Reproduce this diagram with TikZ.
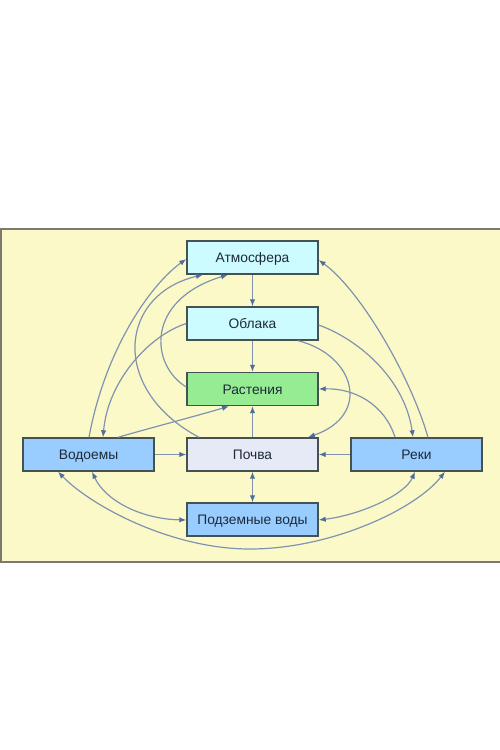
\documentclass[tikz,border=0pt]{standalone}
\usepackage{fontspec}
\setmainfont{Liberation Sans}
\usetikzlibrary{arrows.meta}
\definecolor{bgyellow}{HTML}{FCF9C8}
\definecolor{framec}{HTML}{7A7A72}
\definecolor{boxline}{HTML}{46524F}
\definecolor{cyanf}{HTML}{CCFCFF}
\definecolor{greenf}{HTML}{96EC92}
\definecolor{soilf}{HTML}{E6EAF6}
\definecolor{bluef}{HTML}{99CCFF}
\definecolor{linec}{HTML}{7F93B0}
\definecolor{tipc}{HTML}{4E6C9C}
\definecolor{textc}{HTML}{1E2A38}
\tikzset{
  mytip/.tip={Latex[length=7pt,width=5.5pt,color=tipc]},
  box/.style={draw=boxline, line width=1.4pt, minimum width=131pt, minimum height=33pt,
    inner sep=0pt, text height=10pt, text depth=0pt, text=textc, font=\fontsize{13.8}{16}\selectfont},
  conn/.style={draw=linec, line width=1.2pt},
}
\begin{document}
\begin{tikzpicture}[x=1pt,y=-1pt]
\useasboundingbox (0,0) rectangle (500,750);
\fill[white] (0,0) rectangle (500,750);
\draw[draw=framec, line width=1.5pt, fill=bgyellow] (1,229) rectangle (503,562);

\node[box, fill=cyanf] (atm) at (252.5,257.5) {Атмосфера};
\node[box, fill=cyanf] (obl) at (252.5,323.5) {Облака};
\node[box, fill=greenf] (rast) at (252.5,389) {Растения};
\node[box, fill=soilf] (poc) at (252.5,454.5) {Почва};
\node[box, fill=bluef] (vod) at (88.5,454.5) {Водоемы};
\node[box, fill=bluef] (rek) at (416.5,454.5) {Реки};
\node[box, fill=bluef] (pod) at (252.5,519.5) {Подземные воды};
\coordinate (bot) at (250,549);

% straight connectors
\draw[conn, -mytip] (atm.south) -- (obl.north);
\draw[conn, -mytip] (obl.south) -- (rast.north);
\draw[conn, -mytip] (poc.north) -- (rast.south);
\draw[conn, mytip-mytip] (poc.south) -- (pod.north);
\draw[conn, -mytip] (vod.east) -- (poc.west);
\draw[conn, -mytip] (rek.west) -- (poc.east);

% curved connectors
\draw[conn, -mytip] ([xshift=0.5pt]vod.north) .. controls (105,350) and (150,285) .. ([yshift=-1.5pt]atm.west);
\draw[conn, -mytip] (obl.west) .. controls (150,335) and (108,380) .. ([xshift=14.5pt]vod.north);
\draw[conn, -mytip] ([xshift=29.5pt]vod.north) .. controls (150,428) and (200,415) .. ([xshift=-23.5pt]rast.south);
\draw[conn, -mytip] ([xshift=-53.5pt]poc.north) .. controls (110,390) and (118,295) .. ([xshift=-49.5pt]atm.south);
\draw[conn, -mytip] ([yshift=2pt]rast.west) .. controls (150,365) and (145,300) .. ([xshift=-24.5pt]atm.south);
\draw[conn, -mytip] ([xshift=11.5pt]rek.north) .. controls (410,375) and (360,290) .. ([yshift=-2.5pt]atm.east);
\draw[conn, -mytip] ([yshift=-1.5pt]obl.east) .. controls (360,340) and (405,380) .. ([xshift=-3.5pt]rek.north);
\draw[conn, -mytip] ([xshift=45.5pt]obl.south) .. controls (355,355) and (372,415) .. ([xshift=55.5pt]poc.north);
\draw[conn, -mytip] ([xshift=-21.5pt]rek.north) .. controls (385,405) and (355,388) .. (rast.east);
\draw[conn, mytip-mytip] ([xshift=3.5pt]vod.south) .. controls (105,500) and (140,519) .. ([yshift=-0.5pt]pod.west);
\draw[conn, mytip-mytip] ([xshift=-30.5pt]vod.south) .. controls (90,505) and (170,549) .. (bot) .. controls (330,549) and (415,510) .. ([xshift=28.5pt]rek.south);
\draw[conn, mytip-mytip] ([yshift=-0.5pt]pod.east) .. controls (360,515) and (405,495) .. ([xshift=-1.5pt]rek.south);
\end{tikzpicture}
\end{document}
